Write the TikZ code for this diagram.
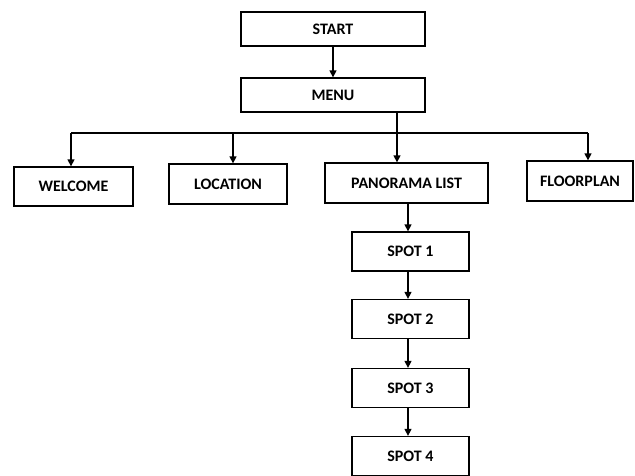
\documentclass[tikz,border=0pt]{standalone}
\usepackage{fontspec}
\setmainfont{Carlito}
\usetikzlibrary{arrows.meta}

\begin{document}
\begin{tikzpicture}[x=1pt,y=-1pt,
	box/.style={draw, line width=1.3pt, font=\bfseries\fontsize{16}{18}\selectfont, inner sep=0pt},
	link/.style={line width=1.3pt},
	>={Triangle[length=7pt,width=7pt]}]
	\useasboundingbox (0,0) rectangle (635,475);
	
	% Top of the chart
	\node[box, minimum width=184pt, minimum height=34pt] (start) at (333,29) {START};
	\node[box, minimum width=184pt, minimum height=34pt] (menu) at (333,95) {MENU};
	
	% Second row
	\node[box, minimum width=119pt, minimum height=39pt] (welcome) at (73.5,186.5) {WELCOME};
	\node[box, minimum width=118pt, minimum height=40pt] (location) at (228,184) {LOCATION};
	\node[box, minimum width=163pt, minimum height=40pt] (panorama) at (406.5,183) {PANORAMA LIST};
	\node[box, minimum width=106pt, minimum height=40pt] (floorplan) at (580,181) {FLOORPLAN};
	
	% Spots
	\foreach \i/\y in {1/251.5, 2/319, 3/388, 4/456}
	\node[box, minimum width=117pt, minimum height=39pt] (spot\i) at (410.5,\y) {SPOT \i};
	
	% Branch points
	\coordinate (bar) at (397,133);
	\coordinate (bw) at (71,133);
	\coordinate (bl) at (233,133);
	\coordinate (bf) at (588,133);
	\coordinate (sp) at (408,0);
	
	% Connectors
	\draw[link,->] (start) -- (menu);
	\draw[link] (menu.south -| bar) -- (bar);
	\draw[link] (bw) -- (bf);
	\draw[link,->] (bw) -- (bw |- welcome.north);
	\draw[link,->] (bl) -- (bl |- location.north);
	\draw[link,->] (bar) -- (bar |- panorama.north);
	\draw[link,->] (bf) -- (bf |- floorplan.north);
	\draw[link,->] (sp |- panorama.south) -- (sp |- spot1.north);
	\foreach \a/\b in {1/2, 2/3, 3/4}
	\draw[link,->] (sp |- spot\a.south) -- (sp |- spot\b.north);
\end{tikzpicture}
\end{document}
